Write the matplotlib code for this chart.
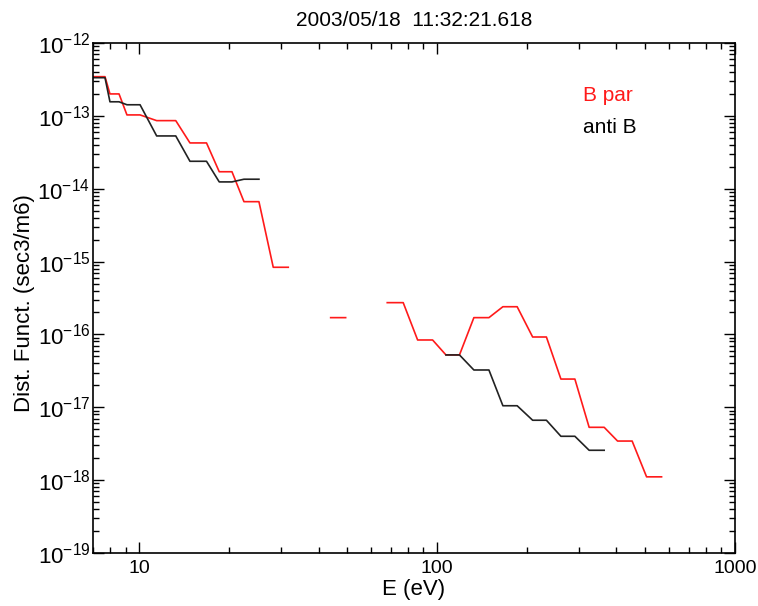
import numpy as np
import matplotlib
matplotlib.use("Agg")
import matplotlib.pyplot as plt
from matplotlib.ticker import FixedLocator, NullFormatter, FuncFormatter, LogLocator

plt.rcParams['font.family'] = ['Liberation Sans Narrow', 'Liberation Sans', 'DejaVu Sans']
plt.rcParams['mathtext.default'] = 'regular'

title = "2003/05/18  11:32:21.618"

# energy bins (eV): lower and upper edge of each sweep step
e_lo = [6.9, 7.98, 9.10, 11.45, 14.81, 18.57, 22.48, 28.19, 35.2, 43.94,
        54.8, 68.04, 86.04, 107.1, 132.9, 166.3, 209.3, 260.4, 323.9, 403.5, 504.9]
e_hi = [7.68, 8.56, 10.07, 13.27, 16.83, 20.49, 25.24, 31.66, 39.5, 49.33,
        61.4, 76.97, 96.6, 118.9, 149.3, 185.7, 232.8, 290.1, 363.8, 451.6, 566.9]

nan = np.nan
# distribution function (sec3/m6), parallel to B
f_par = [3.45e-13, 2.0e-13, 1.03e-13, 8.6e-14, 4.25e-14, 1.71e-14, 6.64e-15, 8.35e-16,
         nan, 1.70e-16, nan, 2.73e-16, 8.39e-17, 5.23e-17, 1.70e-16, 2.40e-16,
         9.22e-17, 2.44e-17, 5.31e-18, 3.44e-18, 1.11e-18]
# distribution function (sec3/m6), anti-parallel to B
f_anti = [3.34e-13, 1.56e-13, 1.42e-13, 5.3e-14, 2.38e-14, 1.24e-14, 1.35e-14, nan,
          nan, nan, nan, nan, nan, 5.23e-17, 3.25e-17, 1.05e-17,
          6.64e-18, 4.0e-18, 2.57e-18, nan, nan]

x_ticks = [10, 100, 1000]
y_decades = list(range(-19, -11))


def step_path(lo, hi, vals):
    xs, ys = [], []
    for a, b, v in zip(lo, hi, vals):
        xs += [a, b]
        ys += [v, v]
    return np.array(xs), np.array(ys)


fig = plt.figure(figsize=(7.58, 6.06), dpi=100)
ax = fig.add_axes([93 / 758, 53 / 606, 642 / 758, 510 / 606])

xp, yp = step_path(e_lo, e_hi, f_par)
xa, ya = step_path(e_lo, e_hi, f_anti)
ax.plot(xp, yp, color='#ff1a1a', lw=1.2)
ax.plot(xa, ya, color='#222222', lw=1.2)

ax.set_xscale('log')
ax.set_yscale('log')
ax.set_xlim(7, 1000)
ax.set_ylim(1e-19, 1e-12)

ax.xaxis.set_major_locator(FixedLocator(x_ticks))
ax.xaxis.set_major_formatter(FuncFormatter(lambda v, p: f"{int(round(v))}"))
ax.xaxis.set_minor_locator(LogLocator(base=10, subs=np.arange(2, 10)))
ax.xaxis.set_minor_formatter(NullFormatter())

ax.yaxis.set_major_locator(FixedLocator([10.0 ** d for d in y_decades]))
ax.yaxis.set_major_formatter(FuncFormatter(
    lambda v, p: r"$10^{%d}$" % int(round(np.log10(v)))))
ax.yaxis.set_minor_locator(LogLocator(base=10, subs=np.arange(2, 10)))
ax.yaxis.set_minor_formatter(NullFormatter())

ax.tick_params(which='both', direction='in', top=True, right=True, color='black', width=1.0)
ax.tick_params(which='major', length=8)
ax.tick_params(which='minor', length=4)
ax.tick_params(axis='x', which='major', labelsize=14, pad=5)
ax.tick_params(axis='y', which='major', labelsize=16, pad=2)

for s in ax.spines.values():
    s.set_linewidth(1.2)

ax.set_xlabel("E (eV)", fontsize=16, va='center')
ax.xaxis.set_label_coords(0.5, -0.072)
ax.set_ylabel("Dist. Funct. (sec3/m6)", fontsize=16, va='center', ha='center')
ax.yaxis.set_label_coords(-0.107, 0.49)
ax.set_title(title, fontsize=15, pad=12)

fig.text(583 / 758, 1 - 101 / 606, "B par", color='#ff1a1a', fontsize=15, ha='left', va='baseline')
fig.text(583 / 758, 1 - 133 / 606, "anti B", color='black', fontsize=15, ha='left', va='baseline')

fig.savefig("out.png", dpi=100)
